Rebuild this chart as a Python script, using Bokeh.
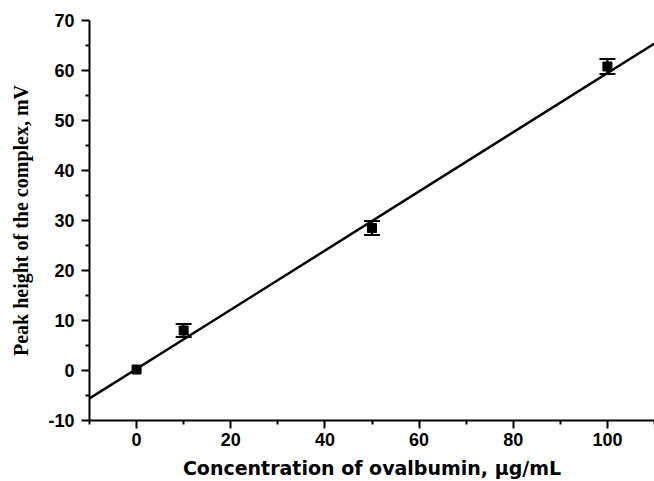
from bokeh.plotting import figure
from bokeh.models import ColumnDataSource, Whisker, TeeHead, Range1d, FixedTicker, CustomJSTickFormatter
from bokeh.embed import file_html
from bokeh.resources import INLINE

# data
conc = [0, 10, 50, 100]
peak = [0.2, 8.0, 28.5, 60.8]
err = [0.0, 1.3, 1.4, 1.5]
fit_x = [-10, 110]
fit_y = [-5.6, 65.4]
x_ticks = [0, 20, 40, 60, 80, 100]
x_minor = [-10, 10, 30, 50, 70, 90, 110]
y_ticks = [-10, 0, 10, 20, 30, 40, 50, 60, 70]
y_minor = [-5, 5, 15, 25, 35, 45, 55, 65]

p = figure(width=654, height=481,
           x_range=Range1d(-10, 110), y_range=Range1d(-10, 70),
           output_backend="svg", toolbar_location=None,
           min_border_left=89, min_border_right=0,
           min_border_top=20, min_border_bottom=61)
p.outline_line_color = None
p.xgrid.visible = False
p.ygrid.visible = False
p.background_fill_color = "white"
p.border_fill_color = "white"

# fit line
p.line(fit_x, fit_y, line_color="black", line_width=2.5)

# error bars (only where visible)
ex = [c for c, e in zip(conc, err) if e > 0]
ey = [v for v, e in zip(peak, err) if e > 0]
ee = [e for e in err if e > 0]
src = ColumnDataSource(dict(x=ex,
                            lower=[v - e for v, e in zip(ey, ee)],
                            upper=[v + e for v, e in zip(ey, ee)]))
w = Whisker(source=src, base="x", lower="lower", upper="upper",
            line_color="black", line_width=2,
            upper_head=TeeHead(size=16, line_color="black", line_width=2),
            lower_head=TeeHead(size=16, line_color="black", line_width=2))
p.add_layout(w)

# points
p.scatter(conc, peak, marker="square", size=9, fill_color="black", line_color="black")

fmt = CustomJSTickFormatter(code="return tick.toFixed(0);")
for ax in (p.xaxis[0], p.yaxis[0]):
    ax.axis_line_width = 2
    ax.axis_line_color = "black"
    ax.major_tick_line_width = 2
    ax.minor_tick_line_width = 2
    ax.major_tick_in = 0
    ax.major_tick_out = 8
    ax.minor_tick_in = 0
    ax.minor_tick_out = 4
    ax.major_label_text_font = "Liberation Sans"
    ax.major_label_text_font_style = "bold"
    ax.major_label_text_font_size = "18px"
    ax.major_label_text_color = "black"
    ax.axis_label_text_color = "black"
    ax.formatter = fmt

p.xaxis.ticker = FixedTicker(ticks=x_ticks, minor_ticks=x_minor)
p.yaxis.ticker = FixedTicker(ticks=y_ticks, minor_ticks=y_minor)

p.xaxis.major_label_standoff = 4
p.yaxis.major_label_standoff = 7

p.xaxis.axis_label = "Concentration of ovalbumin, µg/mL"
p.xaxis.axis_label_text_font = "DejaVu Sans"
p.xaxis.axis_label_text_font_style = "bold"
p.xaxis.axis_label_text_font_size = "19px"
p.xaxis.axis_label_standoff = 8

p.yaxis.axis_label = "Peak height of the complex, mV"
p.yaxis.axis_label_text_font = "Liberation Serif"
p.yaxis.axis_label_text_font_style = "bold"
p.yaxis.axis_label_text_font_size = "20px"
p.yaxis.axis_label_standoff = 13

open("out.html", "w").write(file_html(p, INLINE))
